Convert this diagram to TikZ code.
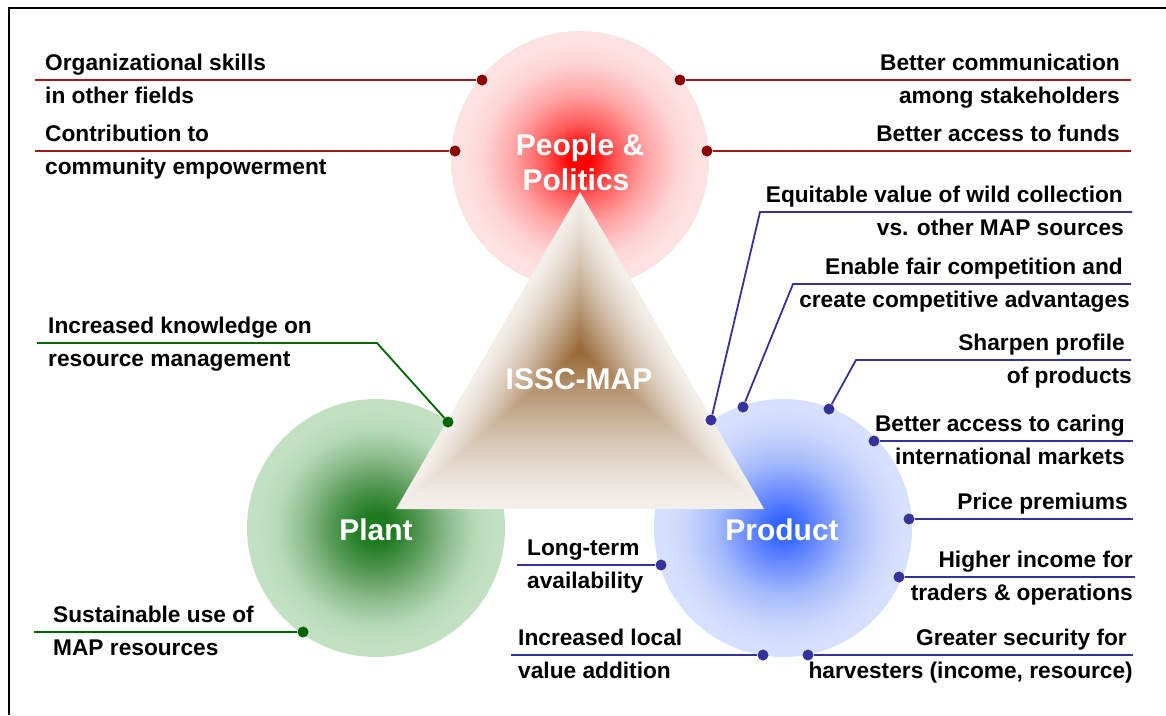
\documentclass[tikz,border=0pt]{standalone}
\usepackage{fontspec}
\setmainfont{Liberation Sans}
\usetikzlibrary{calc}
\definecolor{redln}{HTML}{A31A1A}
\definecolor{reddt}{HTML}{8B0000}
\definecolor{blueln}{HTML}{333399}
\definecolor{greenln}{HTML}{006600}
\definecolor{triedge}{HTML}{F3EFEA}
\definecolor{trimid}{HTML}{976735}
\definecolor{ra}{HTML}{FF0000}
\definecolor{rb}{HTML}{FF5A5A}
\definecolor{rc}{HTML}{FFA5A5}
\definecolor{rd}{HTML}{FDD5D5}
\definecolor{re}{HTML}{FDE2E2}
\definecolor{ga}{HTML}{1F7A1F}
\definecolor{gb}{HTML}{4E954E}
\definecolor{gc}{HTML}{8EBC8E}
\definecolor{gd}{HTML}{B6DAB6}
\definecolor{ge}{HTML}{C2E1C2}
\definecolor{ba}{HTML}{3366FF}
\definecolor{bb}{HTML}{6B8CFD}
\definecolor{bc}{HTML}{A5BBFB}
\definecolor{bd}{HTML}{CAD6FC}
\definecolor{be}{HTML}{D7E0FC}
\pgfdeclareradialshading{redball}{\pgfpoint{0bp}{0bp}}{color(0bp)=(ra); color(2bp)=(ra); color(7bp)=(rb); color(13bp)=(rc); color(19bp)=(rd); color(23bp)=(re); color(50bp)=(re)}
\pgfdeclareradialshading{grnball}{\pgfpoint{0bp}{0bp}}{color(0bp)=(ga); color(3bp)=(ga); color(8bp)=(gb); color(14bp)=(gc); color(19bp)=(gd); color(23bp)=(ge); color(50bp)=(ge)}
\pgfdeclareradialshading{bluball}{\pgfpoint{0bp}{0bp}}{color(0bp)=(ba); color(2bp)=(ba); color(7bp)=(bb); color(13bp)=(bc); color(19bp)=(bd); color(23bp)=(be); color(50bp)=(be)}
\tikzset{
  lbl/.style={font=\fontsize{22.7}{27}\selectfont\bfseries, inner sep=0pt},
  big/.style={font=\fontsize{30}{34}\selectfont\bfseries, text=white, inner sep=0pt},
  ball/.style={circle, inner sep=0pt, minimum size=258pt, shade, shading=#1},
  rdot/.style={circle, fill=reddt, inner sep=0pt, minimum size=11pt},
  bdot/.style={circle, fill=blueln, inner sep=0pt, minimum size=11pt},
  gdot/.style={circle, fill=greenln, inner sep=0pt, minimum size=11pt},
  rline/.style={draw=redln, line width=1.8pt},
  bline/.style={draw=blueln, line width=1.8pt},
  gline/.style={draw=greenln, line width=1.8pt},
}
\begin{document}
\begin{tikzpicture}[x=1pt, y=-1pt]
\useasboundingbox (0,0) rectangle (1166,715);
% frame
\draw[line width=2pt] (8.5,715) -- (8.5,7.5) -- (1166,7.5);
% circles
\node[ball=redball] (pp) at (580,160) {};
\node[ball=grnball] (pl) at (376,528) {};
\node[ball=bluball] (pr) at (783,528) {};
% triangle (path gradient)
\coordinate (ta) at (580,192);
\coordinate (tb) at (396,509);
\coordinate (tcc) at (764,509);
\coordinate (tc) at (580,350);
\foreach \i in {0,...,59}{
  \pgfmathsetmacro\s{1-\i/60}
  \pgfmathsetmacro\p{100*(\i/59)^1.4}
  \fill[trimid!\p!triedge] ($(tc)!\s!(ta)$) -- ($(tc)!\s!(tb)$) -- ($(tc)!\s!(tcc)$) -- cycle;
}
% big labels
\node[big, anchor=base] (t1) at (580,155) {People \&};
\node[big, anchor=base] (t2) at (576,190) {Politics};
\node[big, anchor=base] (t3) at (376,540) {Plant};
\node[big, anchor=base] (t4) at (782,540) {Product};
\node[big, anchor=base] (t5) at (579,389) {ISSC-MAP};
% ---------- red connectors ----------
\node[rdot] (r1) at (482,80) {};
\coordinate (r1e) at (35,80);
\draw[rline] (r1e) -- (r1);
\node[lbl, anchor=base west] (l1a) at (45,70) {Organizational skills};
\node[lbl, anchor=base west] (l1b) at (45,103) {in other fields};
\node[rdot] (r2) at (455,151) {};
\coordinate (r2e) at (35,151);
\draw[rline] (r2e) -- (r2);
\node[lbl, anchor=base west] (l2a) at (45,141) {Contribution to};
\node[lbl, anchor=base west] (l2b) at (45,174) {community empowerment};
\node[rdot] (r3) at (680,80) {};
\coordinate (r3e) at (1131,80);
\draw[rline] (r3) -- (r3e);
\node[lbl, anchor=base east] (l3a) at (1120,70) {Better communication};
\node[lbl, anchor=base east] (l3b) at (1120,103) {among stakeholders};
\node[rdot] (r4) at (707,151) {};
\coordinate (r4e) at (1131,151);
\draw[rline] (r4) -- (r4e);
\node[lbl, anchor=base east] (l4a) at (1120,141) {Better access to funds};
% ---------- blue connectors ----------
\node[bdot] (b1) at (711,420) {};
\coordinate (b1k) at (760,212);
\coordinate (b1e) at (1132,212);
\draw[bline] (b1) -- (b1k) -- (b1e);
\node[lbl, anchor=base east] (l5a) at (1123,202) {Equitable value of wild collection};
\node[lbl, anchor=base east] (l5b) at (1124,235) {vs. other MAP sources};
\node[bdot] (b2) at (743,407) {};
\coordinate (b2k) at (793,284);
\coordinate (b2e) at (1131,284);
\draw[bline] (b2) -- (b2k) -- (b2e);
\node[lbl, anchor=base east] (l6a) at (1123,274) {Enable fair competition and};
\node[lbl, anchor=base east] (l6b) at (1130,307) {create competitive advantages};
\node[bdot] (b3) at (829,409) {};
\coordinate (b3k) at (856,360);
\coordinate (b3e) at (1131,360);
\draw[bline] (b3) -- (b3k) -- (b3e);
\node[lbl, anchor=base east] (l7a) at (1125,350) {Sharpen profile};
\node[lbl, anchor=base east] (l7b) at (1132,383) {of products};
\node[bdot] (b4) at (874,441) {};
\coordinate (b4e) at (1133,441);
\draw[bline] (b4) -- (b4e);
\node[lbl, anchor=base east] (l8a) at (1125,431) {Better access to caring};
\node[lbl, anchor=base east] (l8b) at (1125,464) {international markets};
\node[bdot] (b5) at (909,519) {};
\coordinate (b5e) at (1133,519);
\draw[bline] (b5) -- (b5e);
\node[lbl, anchor=base east] (l9a) at (1128,509) {Price premiums};
\node[bdot] (b6) at (899,577) {};
\coordinate (b6e) at (1135,577);
\draw[bline] (b6) -- (b6e);
\node[lbl, anchor=base east] (l10a) at (1133,567) {Higher income for};
\node[lbl, anchor=base east] (l10b) at (1133,600) {traders \& operations};
\node[bdot] (b7) at (808,655) {};
\coordinate (b7e) at (1133,655);
\draw[bline] (b7) -- (b7e);
\node[lbl, anchor=base east] (l11a) at (1127,645) {Greater security for};
\node[lbl, anchor=base east] (l11b) at (1133,678) {harvesters (income, resource)};
\node[bdot] (b8) at (661,565) {};
\coordinate (b8e) at (517,565);
\draw[bline] (b8e) -- (b8);
\node[lbl, anchor=base west] (l12a) at (527,555) {Long-term};
\node[lbl, anchor=base west] (l12b) at (527,588) {availability};
\node[bdot] (b9) at (763,655) {};
\coordinate (b9e) at (511,655);
\draw[bline] (b9e) -- (b9);
\node[lbl, anchor=base west] (l13a) at (518,645) {Increased local};
\node[lbl, anchor=base west] (l13b) at (518,678) {value addition};
% ---------- green connectors ----------
\node[gdot] (g1) at (448,422) {};
\coordinate (g1k) at (377,343);
\coordinate (g1e) at (37,343);
\draw[gline] (g1) -- (g1k) -- (g1e);
\node[lbl, anchor=base west] (l14a) at (48,333) {Increased knowledge on};
\node[lbl, anchor=base west] (l14b) at (48,366) {resource management};
\node[gdot] (g2) at (303,632) {};
\coordinate (g2e) at (34,632);
\draw[gline] (g2e) -- (g2);
\node[lbl, anchor=base west] (l15a) at (53,622) {Sustainable use of};
\node[lbl, anchor=base west] (l15b) at (53,655) {MAP resources};
\end{tikzpicture}
\end{document}
